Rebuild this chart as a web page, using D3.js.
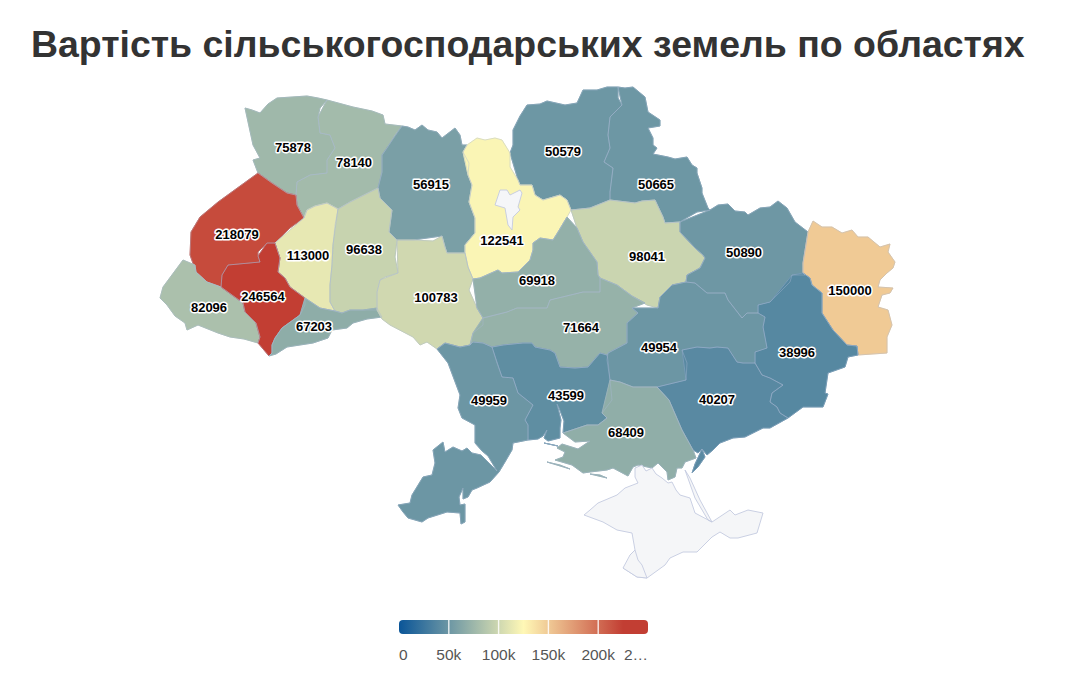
<!DOCTYPE html>
<html>
<head>
<meta charset="utf-8">
<script src="https://cdn.jsdelivr.net/npm/d3@7"></script>
<style>
  body { margin: 0; background: #fff; }
  text { font-family: "Liberation Sans", Arial, sans-serif; }
</style>
</head>
<body>
<div id="chart"></div>
<script>
// land value per oblast, same order everywhere below
const regionNames = ["Волинська", "Рівненська", "Житомирська", "Чернігівська", "Сумська", "Львівська",
  "Тернопільська", "Хмельницька", "Київська", "Полтавська", "Харківська", "Луганська", "Закарпатська",
  "Івано-Франківська", "Чернівецька", "Вінницька", "Черкаська", "Кіровоградська", "Дніпропетровська",
  "Донецька", "Одеська", "Миколаївська", "Запорізька", "Херсонська"];
const regionValues = [75878, 78140, 56915, 50579, 50665, 218079, 113000, 96638, 122541, 98041, 50890, 150000,
  82096, 246564, 67203, 100783, 69918, 71664, 49954, 38996, 49959, 43599, 40207, 68409];
const labelPoints = [[293,147],[354,162],[431,184],[563,151],[656,184],[237,234],[308,255],[364,249],[502,240],
  [647,256],[744,252],[850,290],[209,307],[263,296],[314,326],[436,297],[537,280],[581,327],[659,347],[797,352],
  [489,400],[566,395],[717,399],[626,432]];

// outlines, in map units
const volyn = [[[245,108],[252,110],[260,113],[268,104],[277,98],[292,97],[307,96],[318,98],[327,100],[320,108],[318,117],[320,133],[330,135],[335,148],[327,160],[327,173],[310,175],[297,182],[296,195],[287,193],[272,183],[258,173],[253,160],[260,158],[253,145],[246,125]]];
const rivne = [[[327,100],[353,107],[372,111],[383,115],[385,124],[402,126],[395,135],[387,148],[382,155],[382,172],[378,188],[362,196],[350,202],[338,209],[327,203],[315,206],[307,210],[304,218],[297,205],[296,195],[297,182],[310,175],[327,173],[327,160],[335,148],[330,135],[320,133],[318,117],[320,108]]];
const zhytomyr = [[[402,126],[408,127],[415,130],[422,125],[428,130],[437,132],[442,138],[455,128],[460,135],[462,145],[467,145],[463,152],[469,163],[468,175],[472,185],[469,202],[475,218],[475,233],[465,245],[465,253],[447,253],[445,247],[442,236],[413,240],[397,240],[389,232],[392,210],[380,198],[378,188],[382,172],[382,155],[395,135]]];
const chernihiv = [[[510,153],[513,145],[513,130],[520,116],[527,105],[540,104],[547,101],[565,105],[577,103],[583,90],[597,90],[607,87],[618,87],[618,98],[622,105],[610,117],[608,135],[610,148],[604,162],[613,168],[610,192],[610,200],[590,208],[571,210],[567,200],[560,195],[543,200],[535,195],[532,185],[520,185],[518,180],[510,167]]];
const sumy = [[[618,87],[625,88],[633,87],[645,97],[648,112],[660,120],[660,126],[648,128],[653,138],[653,145],[657,148],[653,154],[668,157],[675,159],[687,157],[692,165],[697,168],[697,173],[702,188],[702,193],[708,208],[710,210],[697,212],[683,220],[680,222],[665,223],[663,217],[655,200],[642,201],[635,203],[610,200],[610,192],[613,168],[604,162],[610,148],[608,135],[610,117],[622,105],[618,98]]];
const lviv = [[[258,173],[272,183],[287,193],[296,195],[297,205],[304,218],[290,228],[275,243],[267,243],[258,252],[258,256],[260,262],[228,265],[222,275],[221,287],[207,282],[196,272],[190,255],[191,232],[200,217],[218,202],[237,188]]];
const ternopil = [[[304,218],[307,210],[315,206],[327,203],[338,209],[335,225],[333,245],[332,265],[330,285],[330,302],[335,311],[320,308],[305,298],[290,287],[285,278],[278,272],[280,258],[275,243],[290,228]]];
const khmelnytskyi = [[[338,209],[350,202],[362,196],[378,188],[380,198],[392,210],[389,232],[397,240],[395,257],[398,273],[385,277],[380,280],[377,292],[377,310],[363,310],[350,310],[342,313],[335,311],[330,302],[330,285],[332,265],[333,245],[335,225]]];
const kyiv = [[[463,152],[467,145],[477,138],[485,140],[495,138],[502,140],[510,153],[510,167],[518,180],[520,185],[532,185],[535,195],[543,200],[560,195],[567,200],[571,210],[567,217],[558,232],[553,240],[540,238],[533,243],[533,250],[530,260],[518,272],[502,273],[498,270],[480,278],[473,279],[468,267],[465,253],[465,245],[475,233],[475,218],[469,202],[472,185],[468,175],[469,163]]];
const poltava = [[[571,210],[590,208],[610,200],[635,203],[642,201],[655,200],[663,217],[665,223],[680,222],[680,232],[695,248],[703,255],[705,258],[700,268],[687,275],[686,282],[672,285],[660,297],[658,308],[647,305],[632,296],[617,285],[600,278],[598,275],[597,262],[583,242],[577,228],[567,217]]];
const kharkiv = [[[710,210],[718,205],[728,204],[735,211],[745,212],[748,215],[760,208],[770,207],[778,201],[787,208],[795,222],[808,232],[806,245],[803,263],[803,273],[805,275],[792,275],[790,282],[770,302],[758,305],[758,313],[747,313],[742,318],[728,300],[725,293],[707,293],[695,283],[686,282],[687,275],[700,268],[705,258],[703,255],[695,248],[680,232],[680,222],[697,212]]];
const luhansk = [[[808,232],[813,221],[822,227],[832,227],[842,233],[852,230],[858,237],[868,237],[880,247],[890,244],[888,252],[895,262],[893,268],[887,273],[880,280],[878,287],[893,288],[890,293],[882,295],[878,307],[888,310],[892,325],[887,337],[887,353],[858,355],[857,346],[847,345],[833,330],[822,313],[822,293],[812,285],[810,278],[803,273],[803,263],[806,245]]];
const zakarpattia = [[[183,260],[195,265],[196,272],[207,282],[221,287],[232,295],[243,303],[245,312],[256,323],[260,337],[258,343],[244,339],[230,337],[218,333],[198,325],[187,330],[185,323],[175,316],[167,305],[160,298],[163,287],[175,277]]];
const ivanoFrankivsk = [[[267,243],[275,243],[280,258],[278,272],[285,278],[290,287],[305,298],[305,305],[300,315],[282,328],[275,338],[272,345],[272,353],[269,356],[258,343],[260,337],[256,323],[245,312],[243,303],[232,295],[221,287],[222,275],[228,265],[260,262],[258,256],[258,252]]];
const chernivtsi = [[[305,298],[320,308],[335,311],[342,313],[350,310],[363,310],[377,308],[382,317],[367,319],[353,323],[347,328],[332,330],[328,338],[313,343],[287,347],[276,354],[269,356],[272,353],[272,345],[275,338],[282,328],[300,315],[305,305]]];
const vinnytsia = [[[397,240],[413,240],[433,241],[442,236],[445,247],[447,253],[465,253],[468,267],[473,279],[469,290],[477,308],[483,318],[483,325],[473,333],[470,345],[460,347],[445,343],[437,349],[427,342],[420,345],[413,337],[390,325],[382,319],[377,310],[377,292],[380,280],[398,273],[395,257]]];
const cherkasy = [[[473,279],[480,278],[498,270],[502,273],[518,272],[530,260],[533,250],[533,243],[540,238],[553,240],[558,232],[567,217],[577,228],[583,242],[597,262],[598,275],[600,278],[600,292],[583,292],[550,300],[547,308],[517,308],[507,312],[483,318],[477,308],[469,290]]];
const kirovohrad = [[[483,318],[507,312],[517,308],[547,308],[550,300],[583,292],[600,292],[600,278],[617,285],[632,296],[645,303],[632,308],[638,313],[627,323],[627,343],[608,353],[607,355],[600,353],[588,367],[575,368],[560,367],[555,353],[550,350],[535,347],[532,343],[523,343],[503,345],[492,347],[483,343],[473,342],[470,345],[473,333],[483,325]]];
const dnipro = [[[658,308],[660,297],[672,285],[686,282],[695,283],[707,293],[725,293],[728,300],[742,318],[747,313],[758,313],[765,317],[763,327],[767,348],[755,352],[755,363],[743,363],[737,362],[728,348],[717,347],[710,348],[697,347],[682,350],[687,363],[686,380],[657,387],[633,387],[620,382],[610,380],[607,360],[608,353],[627,343],[627,323],[638,313],[632,308],[645,303]]];
const donetsk = [[[792,275],[803,273],[810,278],[812,285],[822,293],[822,313],[833,330],[847,345],[857,346],[858,355],[848,357],[845,367],[828,373],[825,393],[828,394],[823,407],[803,407],[788,418],[780,413],[777,407],[770,402],[772,393],[783,385],[770,378],[762,375],[755,363],[755,352],[767,348],[763,327],[765,317],[758,313],[758,305],[770,302],[790,282]]];
const odesa = [[[437,349],[445,343],[460,347],[470,345],[473,342],[483,343],[492,347],[497,363],[502,377],[513,378],[518,393],[533,405],[525,420],[528,425],[528,440],[513,443],[512,450],[505,462],[499,472],[490,482],[477,488],[472,490],[468,497],[463,499],[463,488],[459,497],[460,505],[465,504],[465,510],[465,522],[461,524],[460,513],[447,512],[428,518],[422,522],[408,518],[403,512],[398,505],[410,503],[412,495],[423,477],[432,475],[435,463],[433,450],[443,442],[445,452],[453,447],[462,451],[467,448],[472,453],[481,455],[490,464],[497,471],[488,456],[482,451],[475,443],[475,425],[462,418],[458,408],[460,395],[448,363],[448,357]]];
const mykolaiv = [[[492,347],[503,345],[523,343],[532,343],[535,347],[550,350],[555,353],[560,367],[575,368],[588,367],[600,353],[607,355],[608,360],[610,380],[612,400],[602,413],[607,418],[598,425],[587,425],[563,433],[564,421],[559,408],[557,404],[561,420],[560,428],[560,438],[548,441],[544,438],[547,430],[543,436],[538,439],[528,440],[528,425],[525,420],[533,405],[518,393],[513,378],[502,377],[497,363]],
  [[544,443],[558,446],[553,449]]];
const zaporizhzhia = [[[682,350],[697,347],[710,348],[717,347],[728,348],[737,362],[743,363],[755,363],[762,375],[770,378],[783,385],[772,393],[770,402],[777,407],[780,413],[788,418],[770,428],[763,428],[745,437],[733,438],[720,443],[713,450],[707,455],[702,449],[698,453],[693,450],[682,430],[669,400],[657,387],[686,380],[687,363]],
  [[702,449],[705,457],[698,467],[692,473],[695,464],[700,458]]];
const kherson = [[[610,380],[620,382],[633,387],[657,387],[669,400],[682,430],[693,450],[696,458],[685,462],[682,468],[677,468],[675,477],[668,480],[667,472],[658,463],[652,468],[638,465],[633,467],[628,476],[613,468],[607,470],[590,472],[583,473],[572,465],[555,460],[563,457],[565,452],[557,448],[562,444],[578,449],[590,441],[575,442],[563,433],[587,425],[598,425],[607,418],[602,413],[612,400]],
  [[547,462],[560,465],[570,469],[558,467]],
  [[590,474],[600,475],[607,478],[597,477]]];
const regionOutlines = [volyn, rivne, zhytomyr, chernihiv, sumy, lviv, ternopil, khmelnytskyi, kyiv, poltava, kharkiv,
  luhansk, zakarpattia, ivanoFrankivsk, chernivtsi, vinnytsia, cherkasy, kirovohrad, dnipro, donetsk, odesa, mykolaiv,
  zaporizhzhia, kherson];

// areas with no data
const kyivCity = [[[500,190],[507,190],[510,195],[520,190],[522,193],[518,207],[520,210],[513,217],[512,230],[508,225],[505,208],[495,205],[497,197]]];
const crimea = [[[584,515],[590,510],[598,503],[617,495],[625,488],[638,483],[635,477],[635,468],[642,465],[646,471],[652,468],[656,474],[662,478],[668,483],[672,482],[676,490],[680,495],[690,498],[695,513],[712,522],[730,510],[735,515],[748,510],[763,513],[757,533],[738,538],[730,538],[720,532],[712,537],[697,552],[683,552],[670,558],[665,565],[647,578],[637,577],[623,568],[635,563],[630,555],[635,550],[632,533],[617,530],[603,522],[590,520]],
  [[685,470],[690,478],[700,500],[712,522],[708,520],[695,498],[687,480]]];
const sevastopol = [[[630,555],[635,550],[638,560],[642,565],[647,578],[637,577],[623,568],[635,563]]];
const noDataOutlines = [kyivCity, crimea, sevastopol];

// colour axis
const axisTicks = [0, 50000, 100000, 150000, 200000, 250000];
const axisTickLabels = ["0", "50k", "100k", "150k", "200k", "2…"];
const colorStops = [0, 125000, 225000];
const colorValues = ["#0a5598", "#fff8b6", "#c23e33"];

const chartTitle = "Вартість сільськогосподарських земель по областях";

const width = 1065;
const height = 692;

const svg = d3.select("#chart").append("svg")
  .attr("width", width)
  .attr("height", height);

svg.append("text")
  .attr("x", 31)
  .attr("y", 57)
  .attr("font-size", 37.45)
  .attr("font-weight", "bold")
  .attr("fill", "#333333")
  .text(chartTitle);

const color = d3.scaleLinear()
  .domain(colorStops)
  .range(colorValues)
  .clamp(true);

const toFeature = (outline, i) => ({
  type: "Feature",
  properties: { name: regionNames[i], value: regionValues[i], label: labelPoints[i] },
  geometry: { type: "MultiPolygon", coordinates: outline.map(ring => [ring]) }
});

const regions = regionOutlines.map(toFeature);
const noData = noDataOutlines.map(outline => ({
  type: "Feature",
  geometry: { type: "MultiPolygon", coordinates: outline.map(ring => [ring]) }
}));

// map units already line up with the frame, so just fit the bounds
const projection = d3.geoIdentity()
  .fitExtent([[160, 87], [895, 578]], { type: "FeatureCollection", features: regions.concat(noData) });
const path = d3.geoPath(projection);

const map = svg.append("g");

// a stroke in the region's own colour closes hairline gaps between neighbours
map.selectAll("path.fillgap")
  .data(regions)
  .enter()
  .append("path")
  .attr("class", "fillgap")
  .attr("d", path)
  .attr("fill", d => color(d.properties.value))
  .attr("stroke", d => color(d.properties.value))
  .attr("stroke-width", 1);

map.selectAll("path.region")
  .data(regions)
  .enter()
  .append("path")
  .attr("class", "region")
  .attr("d", path)
  .attr("fill", "none")
  .attr("stroke", "#a9b9d4")
  .attr("stroke-opacity", 0.5)
  .attr("stroke-width", 0.8);

map.selectAll("path.nodata")
  .data(noData)
  .enter()
  .append("path")
  .attr("class", "nodata")
  .attr("d", path)
  .attr("fill", "#f5f6f8")
  .attr("stroke", "#c4cbe0")
  .attr("stroke-width", 0.9);

map.selectAll("text")
  .data(regions)
  .enter()
  .append("text")
  .attr("x", d => projection(d.properties.label)[0])
  .attr("y", d => projection(d.properties.label)[1])
  .attr("dy", "0.35em")
  .attr("text-anchor", "middle")
  .attr("font-size", 13)
  .attr("font-weight", "bold")
  .attr("fill", "#000")
  .attr("stroke", "#fff")
  .attr("stroke-width", 3)
  .attr("stroke-linejoin", "round")
  .attr("paint-order", "stroke")
  .text(d => d.properties.value);

// legend
const legendX = d3.scaleLinear().domain([0, 250000]).range([399, 648]);
const legendY = 620;
const legendHeight = 14;

const defs = svg.append("defs");
const gradient = defs.append("linearGradient").attr("id", "legend-gradient");
gradient.selectAll("stop")
  .data(colorStops.concat([250000]))
  .enter()
  .append("stop")
  .attr("offset", d => d / 250000)
  .attr("stop-color", d => color(d));

svg.append("rect")
  .attr("x", legendX(0))
  .attr("y", legendY)
  .attr("width", legendX(250000) - legendX(0))
  .attr("height", legendHeight)
  .attr("rx", 4)
  .attr("fill", "url(#legend-gradient)");

svg.selectAll("line.tick")
  .data(axisTicks.slice(1, -1))
  .enter()
  .append("line")
  .attr("class", "tick")
  .attr("x1", d => legendX(d))
  .attr("x2", d => legendX(d))
  .attr("y1", legendY)
  .attr("y2", legendY + legendHeight)
  .attr("stroke", "#ffffff")
  .attr("stroke-opacity", 0.85)
  .attr("stroke-width", 1.4);

svg.selectAll("text.ticklabel")
  .data(axisTicks)
  .enter()
  .append("text")
  .attr("class", "ticklabel")
  .attr("x", d => legendX(d))
  .attr("y", 660)
  .attr("text-anchor", (d, i) => i === 0 ? "start" : i === axisTicks.length - 1 ? "end" : "middle")
  .attr("font-size", 15.5)
  .attr("fill", "#555555")
  .text((d, i) => axisTickLabels[i]);
</script>
</body>
</html>
